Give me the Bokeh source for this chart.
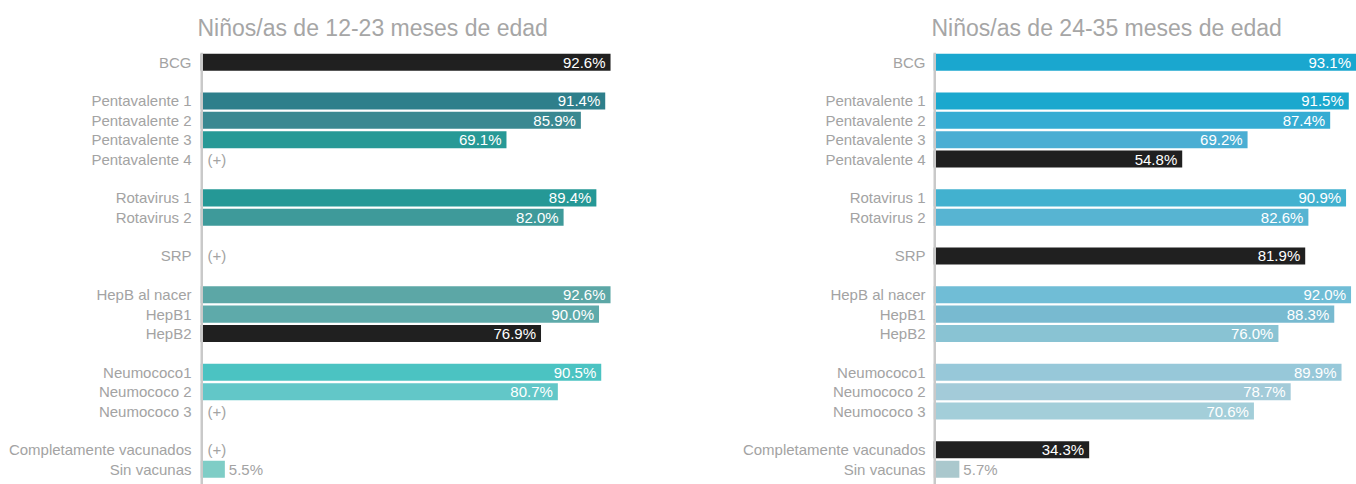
from bokeh.plotting import figure
from bokeh.models import Range1d, FixedTicker, Span, ColumnDataSource
from bokeh.layouts import row
from bokeh.core.properties import value
from bokeh.embed import file_html
from bokeh.resources import INLINE

FONT = "Liberation Sans"

# ---- data ----
groups = [
    ["BCG"],
    ["Pentavalente 1", "Pentavalente 2", "Pentavalente 3", "Pentavalente 4"],
    ["Rotavirus 1", "Rotavirus 2"],
    ["SRP"],
    ["HepB al nacer", "HepB1", "HepB2"],
    ["Neumococo1", "Neumococo 2", "Neumococo 3"],
    ["Completamente vacunados", "Sin vacunas"],
]
title_12_23 = "Niños/as de 12-23 meses de edad"
title_24_35 = "Niños/as de 24-35 meses de edad"
vals_12_23 = [92.6, 91.4, 85.9, 69.1, None, 89.4, 82.0, None,
              92.6, 90.0, 76.9, 90.5, 80.7, None, None, 5.5]
vals_24_35 = [93.1, 91.5, 87.4, 69.2, 54.8, 90.9, 82.6, 81.9,
              92.0, 88.3, 76.0, 89.9, 78.7, 70.6, 34.3, 5.7]
missing_text = "(+)"

# ---- styles ----
colors_12_23 = ["#202020", "#2e7f8b", "#3a8891", "#279996", "#279996", "#259896", "#3e9a9a", "#3e9a9a",
                "#5ca7a6", "#5eaaaa", "#202020", "#4bc3c2", "#62c7c8", "#62c7c8", "#7fcdc6", "#7fcdc6"]
colors_24_35 = ["#1aa7cf", "#1ba8ce", "#35acd3", "#4aaed3", "#202020", "#42b1cf", "#57b4d2", "#202020",
                "#70bdd6", "#78bad0", "#89c3d3", "#97c8d9", "#a3cbd9", "#a3ced9", "#202020", "#aac8cd"]
LABEL_GRAY = "#a3a3a3"
TITLE_GRAY = "#a6a6a6"

# slot positions from group structure (one empty row between groups)
labels, slots = [], []
pos = 0
for g in groups:
    for lab in g:
        labels.append(lab)
        slots.append(pos)
        pos += 1
    pos += 1


def make_panel(title, vals, colors, width, border_left, x_end, standoff, title_offset):
    p = figure(width=width, height=484, output_backend="svg", toolbar_location=None,
               x_range=Range1d(0, x_end), y_range=Range1d(21.79, -0.5),
               x_axis_location=None, min_border_left=border_left, min_border_right=0,
               min_border_bottom=0, min_border_top=0, title=title)
    p.outline_line_color = None
    p.xgrid.visible = False
    p.ygrid.visible = False
    p.title.align = "left"
    p.title.offset = title_offset
    p.title.text_font = FONT
    p.title.text_font_size = "23px"
    p.title.text_font_style = "normal"
    p.title.text_color = TITLE_GRAY
    p.title.standoff = 24

    ax = p.yaxis[0]
    ax.ticker = FixedTicker(ticks=slots)
    ax.major_label_overrides = {s: lab for s, lab in zip(slots, labels)}
    ax.axis_line_color = None
    ax.major_tick_line_color = None
    ax.minor_tick_line_color = None
    ax.major_tick_out = 0
    ax.major_tick_in = 0
    ax.major_label_standoff = standoff
    ax.major_label_text_font = FONT
    ax.major_label_text_font_size = "15px"
    ax.major_label_text_color = LABEL_GRAY

    have = [i for i, v in enumerate(vals) if v is not None]
    src = ColumnDataSource(dict(
        y=[slots[i] for i in have],
        v=[vals[i] for i in have],
        c=[colors[i] for i in have],
    ))
    p.hbar(y="y", left=0, right="v", height=0.88, source=src,
           fill_color="c", line_color=None)

    inside = [i for i in have if vals[i] >= 15]
    outside = [i for i in have if vals[i] < 15]
    miss = [i for i, v in enumerate(vals) if v is None]

    p.text(x=[vals[i] for i in inside], y=[slots[i] for i in inside],
           text=["%.1f%%" % vals[i] for i in inside], x_offset=-5,
           text_align="right", text_baseline="middle", text_color="white",
           text_font=value(FONT), text_font_size="15px")
    p.text(x=[vals[i] for i in outside], y=[slots[i] for i in outside],
           text=["%.1f%%" % vals[i] for i in outside], x_offset=4,
           text_align="left", text_baseline="middle", text_color=LABEL_GRAY,
           text_font=value(FONT), text_font_size="15px")
    if miss:
        p.text(x=[0] * len(miss), y=[slots[i] for i in miss],
               text=[missing_text] * len(miss), x_offset=7,
               text_align="left", text_baseline="middle", text_color=LABEL_GRAY,
               text_font=value(FONT), text_font_size="15px")

    p.add_layout(Span(location=0, dimension="height", line_color="#c9c9c9",
                      line_width=5, level="overlay"))
    return p


p1 = make_panel(title_12_23, vals_12_23, colors_12_23, 620, 200, 94.85, 9, -3)
p2 = make_panel(title_24_35, vals_24_35, colors_24_35, 736, 313, 93.2, 8, -2)

layout = row(p1, p2)
open("out.html", "w").write(file_html(layout, INLINE))
